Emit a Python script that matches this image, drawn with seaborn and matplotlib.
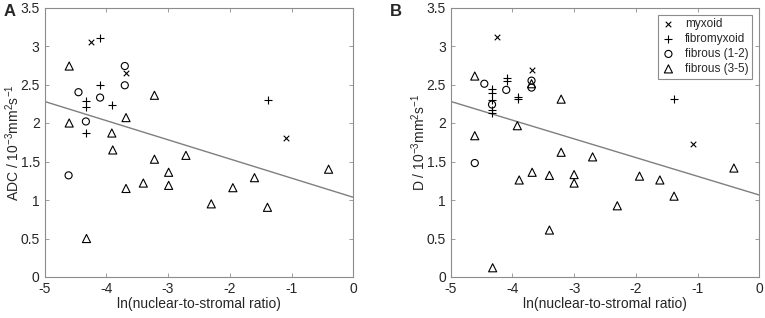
import matplotlib
matplotlib.use("Agg")
import matplotlib.pyplot as plt
import seaborn as sns
import pandas as pd

# ---------------- data ----------------
categories = ["myxoid", "fibromyxoid", "fibrous (1-2)", "fibrous (3-5)"]

# Panel A (ADC)
a_myx_x = [-4.25, -3.68, -1.09]
a_myx_y = [3.05, 2.65, 1.80]
a_fmx_x = [-4.10, -4.10, -4.32, -4.32, -3.91, -4.32, -1.38]
a_fmx_y = [3.11, 2.49, 2.28, 2.21, 2.24, 1.87, 2.30]
a_f12_x = [-3.70, -3.70, -4.45, -4.10, -4.33, -4.61]
a_f12_y = [2.74, 2.49, 2.40, 2.33, 2.02, 1.32]
a_f35_x = [-4.60, -3.22, -3.68, -4.60, -3.91, -3.895, -3.68, -3.40, -3.22,
           -2.99, -2.99, -2.71, -4.32, -0.40, -1.60, -1.95, -2.30, -1.39]
a_f35_y = [2.74, 2.36, 2.07, 2.00, 1.87, 1.65, 1.15, 1.22, 1.53,
           1.36, 1.19, 1.58, 0.50, 1.40, 1.29, 1.16, 0.95, 0.905]
a_fit_x = [-5, 0]
a_fit_y = [2.28, 1.035]

# Panel B (D)
b_myx_x = [-4.25, -3.69, -1.08]
b_myx_y = [3.12, 2.69, 1.73]
b_fmx_x = [-4.09, -4.09, -4.33, -4.33, -4.33, -4.33, -4.33, -3.91, -3.91, -1.38]
b_fmx_y = [2.59, 2.54, 2.44, 2.385, 2.30, 2.17, 2.125, 2.34, 2.31, 2.31]
b_f12_x = [-4.455, -4.10, -4.33, -3.69, -3.69, -4.61]
b_f12_y = [2.51, 2.43, 2.24, 2.55, 2.46, 1.48]
b_f35_x = [-4.61, -3.69, -3.21, -3.92, -4.61, -3.21, -3.89, -3.68, -3.40, -3.00,
           -3.00, -2.70, -3.40, -4.32, -0.41, -1.94, -1.61, -1.38, -2.30]
b_f35_y = [2.61, 2.51, 2.31, 1.965, 1.835, 1.62, 1.26, 1.36, 1.32, 1.33,
           1.22, 1.56, 0.61, 0.12, 1.415, 1.31, 1.26, 1.05, 0.925]
b_fit_x = [-5, 0]
b_fit_y = [2.28, 1.065]

x_ticks = [-5, -4, -3, -2, -1, 0]
x_ticklabels = ["-5", "-4", "-3", "-2", "-1", "0"]
y_ticks = [0, 0.5, 1, 1.5, 2, 2.5, 3, 3.5]
y_ticklabels = ["0", "0.5", "1", "1.5", "2", "2.5", "3", "3.5"]

xlabel = "ln(nuclear-to-stromal ratio)"
ylabel_a = r"ADC / 10$^{\mathregular{-3}}$mm$^{\mathregular{2}}$s$^{\mathregular{-1}}$"
ylabel_b = r"D / 10$^{\mathregular{-3}}$mm$^{\mathregular{2}}$s$^{\mathregular{-1}}$"

# ---------------- style ----------------
sns.set_theme(style="white")
plt.rcParams["font.family"] = ["Liberation Sans", "DejaVu Sans"]
plt.rcParams["font.size"] = 9

fig = plt.figure(figsize=(7.65, 3.18), dpi=100)
ax_a = fig.add_axes([44.5 / 765, 41 / 318, 308.8 / 765, 269.5 / 318])
ax_b = fig.add_axes([450.7 / 765, 41 / 318, 308.5 / 765, 269.5 / 318])

marker_specs = {
    "myxoid": dict(marker="x", s=16, filled=False),
    "fibromyxoid": dict(marker="+", s=34, filled=False),
    "fibrous (1-2)": dict(marker="o", s=26, filled=True),
    "fibrous (3-5)": dict(marker="^", s=34, filled=True),
}


def draw(ax, series, fit_x, fit_y, ylabel):
    for cat, (xs, ys) in zip(categories, series):
        spec = marker_specs[cat]
        df = pd.DataFrame({"x": xs, "y": ys})
        if spec["filled"]:
            sns.scatterplot(data=df, x="x", y="y", ax=ax, marker=spec["marker"],
                            s=spec["s"], facecolor="none", edgecolor="black",
                            linewidth=0.8, label=cat, zorder=3)
        else:
            sns.scatterplot(data=df, x="x", y="y", ax=ax, marker=spec["marker"],
                            s=spec["s"], color="black", linewidth=0.8,
                            label=cat, zorder=3)
    sns.lineplot(x=fit_x, y=fit_y, ax=ax, color="#7f7f7f", linewidth=1.0, zorder=2)
    ax.set_xlim(-5, 0)
    ax.set_ylim(0, 3.5)
    ax.set_xticks(x_ticks)
    ax.set_xticklabels(x_ticklabels)
    ax.set_yticks(y_ticks)
    ax.set_yticklabels(y_ticklabels)
    ax.set_xlabel(xlabel, fontsize=10, color="#262626", labelpad=1)
    ax.set_ylabel(ylabel, fontsize=10, color="#262626", labelpad=-1)
    ax.tick_params(direction="in", length=3, width=0.6, color="#8c8c8c",
                   labelsize=10, labelcolor="#262626", top=True, right=True,
                   bottom=True, left=True, pad=3.5)
    for sp in ax.spines.values():
        sp.set_color("#8c8c8c")
        sp.set_linewidth(0.8)
        sp.set_visible(True)


draw(ax_a, [(a_myx_x, a_myx_y), (a_fmx_x, a_fmx_y), (a_f12_x, a_f12_y), (a_f35_x, a_f35_y)],
     a_fit_x, a_fit_y, ylabel_a)
draw(ax_b, [(b_myx_x, b_myx_y), (b_fmx_x, b_fmx_y), (b_f12_x, b_f12_y), (b_f35_x, b_f35_y)],
     b_fit_x, b_fit_y, ylabel_b)

ax_a.get_legend().remove()
leg = ax_b.legend(loc="upper right", fontsize=8.5, frameon=True, fancybox=False,
                  edgecolor="#8c8c8c", framealpha=1, borderaxespad=0.6,
                  handletextpad=0.8, handlelength=1.2, labelspacing=0.25,
                  borderpad=0.3)
leg.get_frame().set_linewidth(0.8)

fig.text(4 / 765, 1 - 12 / 318, "A", fontsize=12, fontweight="bold", va="center", ha="left")
fig.text(390 / 765, 1 - 12 / 318, "B", fontsize=12, fontweight="bold", va="center", ha="left")

fig.savefig("out.png", dpi=100)
